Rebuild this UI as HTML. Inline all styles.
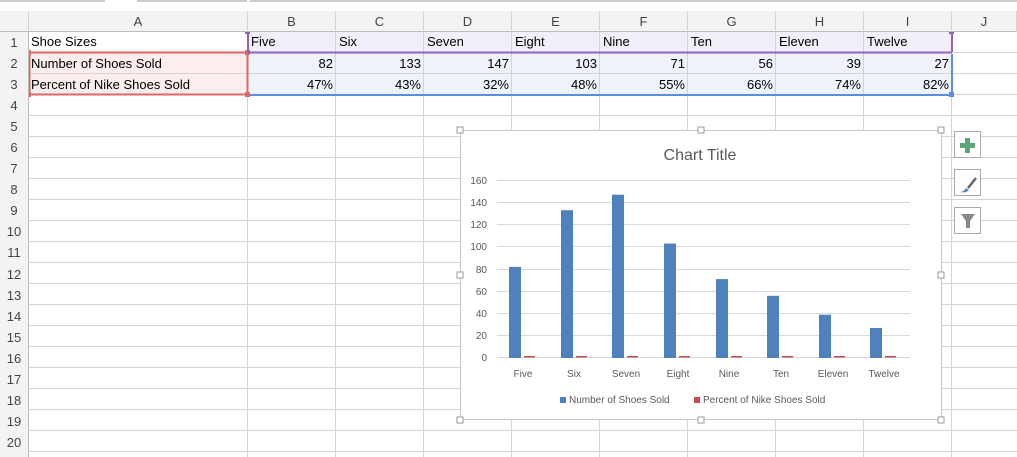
<!DOCTYPE html>
<html><head><style>
body{margin:0;width:1017px;height:457px;overflow:hidden;background:#fff;font-family:"Liberation Sans",sans-serif;position:relative}
.a{position:absolute}
.t{position:absolute;font-size:13px;color:#000;white-space:nowrap}
.ch{position:absolute;top:11px;height:21px;line-height:21px;text-align:center;font-size:13px;color:#444;background:#f3f3f3;border-right:1px solid #d4d4d4;border-bottom:1px solid #bbb;box-sizing:border-box}
</style></head><body>
<div class="a" style="left:0;top:0;width:1017px;height:11px;background:#fff"></div>
<div class="a" style="left:0;top:0;width:105px;height:2px;background:#ccc"></div>
<div class="a" style="left:137px;top:0;width:110px;height:2px;background:#ccc"></div>
<div class="a" style="left:250px;top:0;width:767px;height:2px;background:#ccc"></div>
<svg class="a" style="left:0;top:0" width="1017" height="457">
<g stroke="#d4d4d4" stroke-width="1">
<line x1="28.5" y1="11" x2="28.5" y2="457"/>
<line x1="247.5" y1="11" x2="247.5" y2="457"/>
<line x1="335.5" y1="11" x2="335.5" y2="457"/>
<line x1="423.5" y1="11" x2="423.5" y2="457"/>
<line x1="511.5" y1="11" x2="511.5" y2="457"/>
<line x1="599.5" y1="11" x2="599.5" y2="457"/>
<line x1="687.5" y1="11" x2="687.5" y2="457"/>
<line x1="775.5" y1="11" x2="775.5" y2="457"/>
<line x1="863.5" y1="11" x2="863.5" y2="457"/>
<line x1="951.5" y1="11" x2="951.5" y2="457"/>
</g>
<g stroke="#d4d4d4">
<line x1="0" y1="52.5" x2="1017" y2="52.5"/><line x1="0" y1="73.5" x2="1017" y2="73.5"/>
<line x1="0" y1="94.5" x2="1017" y2="94.5"/><line x1="0" y1="115.5" x2="1017" y2="115.5"/>
<line x1="0" y1="136.5" x2="1017" y2="136.5"/><line x1="0" y1="157.5" x2="1017" y2="157.5"/>
<line x1="0" y1="178.5" x2="1017" y2="178.5"/><line x1="0" y1="199.5" x2="1017" y2="199.5"/>
<line x1="0" y1="220.5" x2="1017" y2="220.5"/><line x1="0" y1="241.5" x2="1017" y2="241.5"/>
<line x1="0" y1="262.5" x2="1017" y2="262.5"/><line x1="0" y1="283.5" x2="1017" y2="283.5"/>
<line x1="0" y1="304.5" x2="1017" y2="304.5"/><line x1="0" y1="325.5" x2="1017" y2="325.5"/>
<line x1="0" y1="346.5" x2="1017" y2="346.5"/><line x1="0" y1="367.5" x2="1017" y2="367.5"/>
<line x1="0" y1="388.5" x2="1017" y2="388.5"/><line x1="0" y1="409.5" x2="1017" y2="409.5"/>
<line x1="0" y1="430.5" x2="1017" y2="430.5"/><line x1="0" y1="451.5" x2="1017" y2="451.5"/>
</g>
<rect x="29" y="32" width="218" height="20" fill="#fff"/>
<rect x="248" y="32" width="704" height="20" fill="#f1eff8"/>
<rect x="29" y="53" width="218" height="41" fill="#fdeeee"/>
<rect x="248" y="53" width="704" height="41" fill="#eef2fb"/>
<g stroke="#d4d4d4"><line x1="0" y1="73.5" x2="1017" y2="73.5"/>
<line x1="335.5" y1="32" x2="335.5" y2="94"/><line x1="423.5" y1="32" x2="423.5" y2="94"/><line x1="511.5" y1="32" x2="511.5" y2="94"/><line x1="599.5" y1="32" x2="599.5" y2="94"/><line x1="687.5" y1="32" x2="687.5" y2="94"/><line x1="775.5" y1="32" x2="775.5" y2="94"/><line x1="863.5" y1="32" x2="863.5" y2="94"/></g>
<rect x="29.5" y="52.5" width="218" height="42" fill="none" stroke="#e06666" stroke-width="2"/>
<rect x="245" y="50" width="5" height="5" fill="#e06666"/><rect x="245" y="92" width="5" height="5" fill="#e06666"/>
<rect x="28" y="50" width="3" height="5" fill="#e06666"/><rect x="28" y="92" width="3" height="5" fill="#e06666"/>
<line x1="248" y1="52.5" x2="952" y2="52.5" stroke="#8e63c0" stroke-width="2"/>
<line x1="248" y1="33" x2="248" y2="52" stroke="#8e63c0" stroke-width="2"/>
<line x1="952" y1="33" x2="952" y2="52" stroke="#8e63c0" stroke-width="2"/>
<rect x="245" y="31" width="5" height="3" fill="#8e63c0"/><rect x="949" y="31" width="5" height="3" fill="#8e63c0"/>
<line x1="250" y1="95" x2="952" y2="95" stroke="#5b8ee0" stroke-width="2"/>
<line x1="952" y1="54" x2="952" y2="94" stroke="#5b8ee0" stroke-width="2"/>
<rect x="949" y="92" width="5" height="5" fill="#5b8ee0"/>
</svg>
<div class="ch" style="left:0;width:29px;background:#f3f3f3"></div>
<div class="ch" style="left:29px;width:219px">A</div>
<div class="ch" style="left:248px;width:88px">B</div>
<div class="ch" style="left:336px;width:88px">C</div>
<div class="ch" style="left:424px;width:88px">D</div>
<div class="ch" style="left:512px;width:88px">E</div>
<div class="ch" style="left:600px;width:88px">F</div>
<div class="ch" style="left:688px;width:88px">G</div>
<div class="ch" style="left:776px;width:88px">H</div>
<div class="ch" style="left:864px;width:88px">I</div>
<div class="ch" style="left:952px;width:65px">J</div>
<div class="a" style="left:0;top:32px;width:28px;height:425px;background:#f3f3f3;border-right:1px solid #bbb"></div>
<div class="a" style="left:0;top:32px;width:28px;font-size:13px;color:#444;line-height:21.05px;text-align:center">1<br>2<br>3<br>4<br>5<br>6<br>7<br>8<br>9<br>10<br>11<br>12<br>13<br>14<br>15<br>16<br>17<br>18<br>19<br>20</div>
<div class="t" style="left:31px;top:34px">Shoe Sizes</div>
<div class="t" style="left:31px;top:56px">Number of Shoes Sold</div>
<div class="t" style="left:31px;top:77px">Percent of Nike Shoes Sold</div>
<div class="t" style="left:251px;top:34px">Five</div><div class="t" style="left:339px;top:34px">Six</div><div class="t" style="left:427px;top:34px">Seven</div><div class="t" style="left:515px;top:34px">Eight</div><div class="t" style="left:603px;top:34px">Nine</div><div class="t" style="left:691px;top:34px">Ten</div><div class="t" style="left:779px;top:34px">Eleven</div><div class="t" style="left:867px;top:34px">Twelve</div>
<div class="a" style="left:248px;top:56px;width:704px;display:flex;font-size:13px;text-align:right">
<div style="width:85px">82</div><div style="width:88px">133</div><div style="width:88px">147</div><div style="width:88px">103</div><div style="width:88px">71</div><div style="width:88px">56</div><div style="width:88px">39</div><div style="width:88px">27</div></div>
<div class="a" style="left:248px;top:77px;width:704px;display:flex;font-size:13px;text-align:right">
<div style="width:85px">47%</div><div style="width:88px">43%</div><div style="width:88px">32%</div><div style="width:88px">48%</div><div style="width:88px">55%</div><div style="width:88px">66%</div><div style="width:88px">74%</div><div style="width:88px">82%</div></div>

<svg class="a" style="left:0;top:0" width="1017" height="457" font-family="Liberation Sans, sans-serif">
<rect x="460.5" y="130.5" width="481" height="289" fill="#fff" stroke="#c6c6c6"/>
<g fill="#fff" stroke="#999"><rect x="457" y="127" width="6" height="6"/><rect x="698" y="127" width="6" height="6"/><rect x="938" y="127" width="6" height="6"/><rect x="457" y="272" width="6" height="6"/><rect x="938" y="272" width="6" height="6"/><rect x="457" y="417" width="6" height="6"/><rect x="698" y="417" width="6" height="6"/><rect x="938" y="417" width="6" height="6"/></g>
<text x="700" y="160" font-size="16" fill="#595959" text-anchor="middle">Chart Title</text>
<g stroke="#d9d9d9"><line x1="497" y1="180.5" x2="910" y2="180.5"/><line x1="497" y1="202.5" x2="910" y2="202.5"/><line x1="497" y1="224.5" x2="910" y2="224.5"/><line x1="497" y1="246.5" x2="910" y2="246.5"/><line x1="497" y1="269.5" x2="910" y2="269.5"/><line x1="497" y1="291.5" x2="910" y2="291.5"/><line x1="497" y1="313.5" x2="910" y2="313.5"/><line x1="497" y1="335.5" x2="910" y2="335.5"/><line x1="497" y1="357.5" x2="910" y2="357.5"/></g>
<g font-size="10" fill="#595959" text-anchor="end"><text x="487" y="184">160</text><text x="487" y="206">140</text><text x="487" y="228">120</text><text x="487" y="250">100</text><text x="487" y="273">80</text><text x="487" y="295">60</text><text x="487" y="317">40</text><text x="487" y="339">20</text><text x="487" y="361">0</text></g>
<g fill="#4f81bd">
<rect x="509" y="266.9" width="12" height="91.1"/><rect x="561" y="210.2" width="12" height="147.8"/><rect x="612" y="194.7" width="12" height="163.3"/><rect x="664" y="143.6" width="12" height="114.4" transform="translate(0,100)"/><rect x="716" y="279.1" width="12" height="78.9"/><rect x="767" y="295.8" width="12" height="62.2"/><rect x="819" y="314.7" width="12" height="43.3"/><rect x="870" y="328" width="12" height="30"/></g>
<g fill="#c0504d"><rect x="524" y="356" width="11" height="1.5"/><rect x="576" y="356" width="11" height="1.5"/><rect x="627" y="356" width="11" height="1.5"/><rect x="679" y="356" width="11" height="1.5"/><rect x="731" y="356" width="11" height="1.5"/><rect x="782" y="356" width="11" height="1.5"/><rect x="834" y="356" width="11" height="1.5"/><rect x="885" y="356" width="11" height="1.5"/></g>
<g font-size="10" fill="#595959" text-anchor="middle"><text x="523" y="377">Five</text><text x="574" y="377">Six</text><text x="626" y="377">Seven</text><text x="678" y="377">Eight</text><text x="729" y="377">Nine</text><text x="781" y="377">Ten</text><text x="833" y="377">Eleven</text><text x="884" y="377">Twelve</text></g>
<rect x="560" y="397" width="6" height="6" fill="#4f81bd"/><text x="569" y="403" font-size="10" fill="#595959">Number of Shoes Sold</text>
<rect x="694" y="397" width="6" height="6" fill="#c0504d"/><text x="703" y="403" font-size="10" fill="#595959">Percent of Nike Shoes Sold</text>
<g fill="#fff" stroke="#aaa"><rect x="954.5" y="131.5" width="26" height="26"/><rect x="954.5" y="169.5" width="26" height="26"/><rect x="954.5" y="207.5" width="26" height="26"/></g>
<path d="M965 138h5v5h5v5h-5v5h-5v-5h-5v-5h5z" fill="#5aa57a"/>
<path d="M960 192c3 0 5-2 6-4l3 2c-2 2-5 3-9 2z" fill="#4f81bd"/><line x1="968" y1="188" x2="976" y2="178" stroke="#666" stroke-width="2.5"/>
<path d="M961 214h14l-5 7v7h-4v-7z" fill="#888"/>
</svg>
</body></html>
